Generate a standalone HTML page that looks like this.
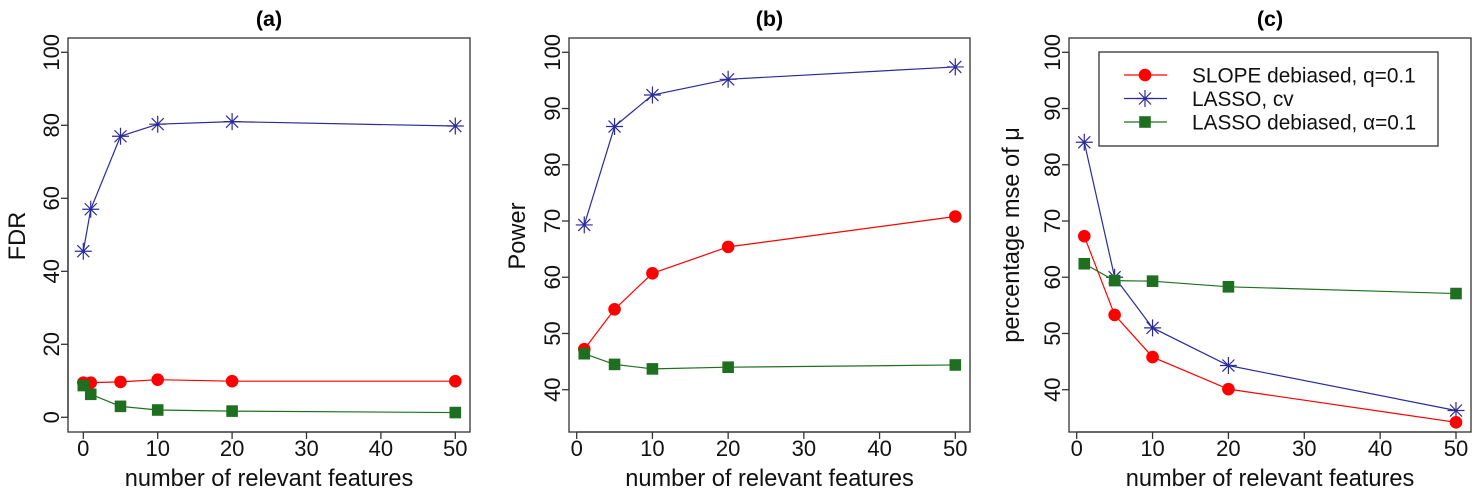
<!DOCTYPE html>
<html><head><meta charset="utf-8"><style>
body{margin:0;background:#fff}
svg{display:block;font-family:"Liberation Sans",Arial,sans-serif}
</style></head><body>
<svg id="c" width="1476" height="494" viewBox="0 0 1476 494"></svg>
<script>
const xa=[0,1,5,10,20,50];
const aBlue=[45.5,57,77,80.3,81,79.8];
const aRed=[9.5,9.5,9.7,10.3,9.9,9.9];
const aGreen=[8.7,6.3,3,2,1.7,1.3];
const xb=[1,5,10,20,50];
const bBlue=[69.3,86.8,92.4,95.2,97.4];
const bRed=[47.2,54.3,60.7,65.4,70.8];
const bGreen=[46.4,44.5,43.7,44,44.4];
const cBlue=[84,60,51,44.3,36.3];
const cRed=[67.3,53.3,45.8,40.1,34.2];
const cGreen=[62.4,59.4,59.3,58.3,57.1];
const xTicks=[0,10,20,30,40,50];
const aYTicks=[0,20,40,60,80,100];
const bcYTicks=[40,50,60,70,80,90,100];
const legendLabels=["SLOPE debiased, q=0.1","LASSO, cv","LASSO debiased, \u03b1=0.1"];

const svg=document.getElementById('c');
const NS='http://www.w3.org/2000/svg';
function mk(tag,attrs,parent){const e=document.createElementNS(NS,tag);for(const k in attrs)e.setAttribute(k,attrs[k]);(parent||svg).appendChild(e);return e;}
const RED='#ff0000',BLUE='#2b2b99',GREEN='#1e7020';

function panel(o){
  const g=mk('g',{});
  
  
  const sx=v=>o.x0+(v-0)*(o.x50-o.x0)/50;
  const sy=v=>o.yA+(v-o.vA)*(o.yB-o.yA)/(o.vB-o.vA);
  const box=mk('rect',{x:o.bx0,y:38,width:o.bx1-o.bx0,height:394,fill:'none',stroke:'#333','stroke-width':1.3},g);
  
  mk('line',{x1:sx(0),x2:sx(50),y1:432,y2:432,stroke:'#333','stroke-width':1.3},g);
  xTicks.forEach(t=>{
    mk('line',{x1:sx(t),x2:sx(t),y1:432,y2:439,stroke:'#333','stroke-width':1.3},g);
    const tx=mk('text',{x:sx(t),y:456,'font-size':22,'text-anchor':'middle',fill:'#111'},g);tx.textContent=t;
    
  });
  const yt=o.yTicks;
  mk('line',{x1:o.bx0,x2:o.bx0,y1:sy(yt[0]),y2:sy(yt[yt.length-1]),stroke:'#333','stroke-width':1.3},g);
  yt.forEach(t=>{
    mk('line',{x1:o.bx0-7,x2:o.bx0,y1:sy(t),y2:sy(t),stroke:'#333','stroke-width':1.3},g);
    const tx=mk('text',{x:0,y:0,'font-size':22,'text-anchor':'middle',fill:'#111',transform:`translate(${o.bx0-9},${sy(t)}) rotate(-90)`},g);tx.textContent=t;
    
  });
  const ti=mk('text',{x:(o.bx0+o.bx1)/2,y:26,'font-size':21.5,'font-weight':'bold','text-anchor':'middle',fill:'#000'},g);ti.textContent=o.title;
  
  const xl=mk('text',{x:(o.bx0+o.bx1)/2,y:486,'font-size':23.6,'text-anchor':'middle',fill:'#111'},g);xl.textContent='number of relevant features';
  
  const yl=mk('text',{x:0,y:0,'font-size':23.6,'text-anchor':'middle',fill:'#111',transform:`translate(${o.ylx},${o.yly}) rotate(-90)`},g);yl.textContent=o.ylabel;
  
  o.series.forEach(s=>{
    const pts=o.xs.map((x,i)=>[sx(x),sy(s.v[i])]);
    const pl=mk('polyline',{points:pts.map(p=>p.join(',')).join(' '),fill:'none',stroke:s.c,'stroke-width':1.2},g);
    
    pts.forEach(p=>{const m=marker(s.t,p[0],p[1],g);});
  });
}
function marker(t,x,y,g){
  if(t==='c')return mk('circle',{cx:x,cy:y,r:6.3,fill:RED},g);
  if(t==='s')return mk('rect',{x:x-5.8,y:y-5.8,width:11.6,height:11.6,fill:GREEN},g);
  const r=8.5,d=r*0.707;
  return mk('path',{d:`M${x-r},${y}H${x+r}M${x},${y-r}V${y+r}M${x-d},${y-d}L${x+d},${y+d}M${x-d},${y+d}L${x+d},${y-d}`,stroke:BLUE,'stroke-width':1.2,fill:'none'},g);
}
panel({name:'panel-a-fdr',title:'(a)',bx0:68,bx1:470,x0:83.3,x50:455.3,vA:0,yA:417.3,vB:100,yB:52.3,yTicks:aYTicks,xs:xa,ylabel:'FDR',ylx:25,yly:236,
 series:[{n:'lasso-cv',v:aBlue,c:BLUE,t:'a'},{n:'slope-debiased',v:aRed,c:RED,t:'c'},{n:'lasso-debiased',v:aGreen,c:GREEN,t:'s'}]});
panel({name:'panel-b-power',title:'(b)',bx0:569,bx1:970,x0:576.7,x50:955.3,vA:40,yA:389.7,vB:100,yB:52.3,yTicks:bcYTicks,xs:xb,ylabel:'Power',ylx:525,yly:236,
 series:[{n:'lasso-cv',v:bBlue,c:BLUE,t:'a'},{n:'slope-debiased',v:bRed,c:RED,t:'c'},{n:'lasso-debiased',v:bGreen,c:GREEN,t:'s'}]});
panel({name:'panel-c-mse',title:'(c)',bx0:1069,bx1:1471,x0:1076.7,x50:1456,vA:40,yA:389.7,vB:100,yB:52.3,yTicks:bcYTicks,xs:xb,ylabel:'percentage mse of \u03bc',ylx:1019,yly:235,
 series:[{n:'lasso-cv',v:cBlue,c:BLUE,t:'a'},{n:'slope-debiased',v:cRed,c:RED,t:'c'},{n:'lasso-debiased',v:cGreen,c:GREEN,t:'s'}]});
const lg=mk('g',{});


mk('rect',{x:1099,y:52,width:339,height:94,fill:'#fff',stroke:'#333','stroke-width':1.3},lg);
const lt=['c','a','s'],lc=[RED,BLUE,GREEN];
legendLabels.forEach((lab,i)=>{
  const y=75+i*23.5;
  const e=mk('g',{},lg);
  
  
  mk('line',{x1:1124,x2:1167,y1:y,y2:y,stroke:lc[i],'stroke-width':1.2},e);
  marker(lt[i],1145,y,e);
  const t=mk('text',{x:1192,y:y+7.5,'font-size':20.8,fill:'#111'},e);t.textContent=lab;
});
</script>
</body></html>
